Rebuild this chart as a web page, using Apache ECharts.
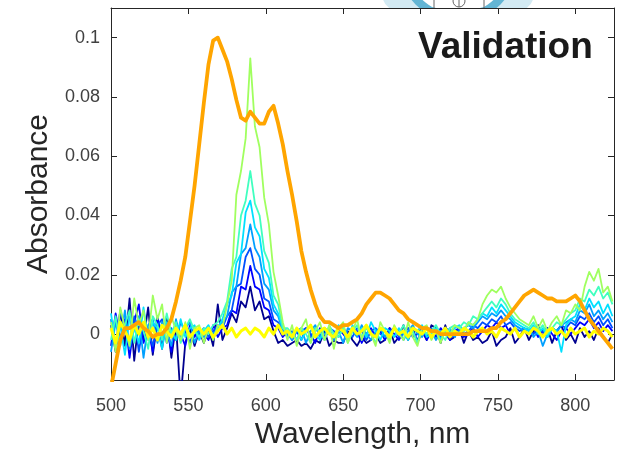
<!DOCTYPE html>
<html><head><meta charset="utf-8">
<script src="https://cdn.jsdelivr.net/npm/echarts@6/dist/echarts.min.js"></script>
<style>html,body{margin:0;padding:0;background:#fff}#c{width:628px;height:455px}</style>
</head><body><div id="c"></div>
<script>
// Wavelength grid (nm)
const wavelength = [
500,503,506,509,512,515,518,521,524,527,
530,533,536,539,542,545,548,551,554,557,
560,563,566,569,572,575,578,581,584,587,
590,593,596,599,602,605,608,611,614,617,
620,623,626,629,632,635,638,641,644,647,
650,653,656,659,662,665,668,671,674,677,
680,683,686,689,692,695,698,701,704,707,
710,713,716,719,722,725,728,731,734,737,
740,743,746,749,752,755,758,761,764,767,
770,773,776,779,782,785,788,791,794,797,
800,803,806,809,812,815,818,821,824];

const navy = [
0.003,-0.006,0.008,-0.004,0.012,-0.009,0.005,-0.002,0.009,-0.007,
0.004,-0.005,0.006,-0.008,0.003,-0.022,-0.003,0.002,-0.004,0.001,
-0.003,0.002,-0.004,0.010,-0.002,0.002,0.007,0.004,0.011,0.009,
0.016,0.008,0.011,0.005,0.006,0.001,-0.003,-0.002,-0.004,-0.003,
-0.002,-0.004,-0.003,-0.005,-0.002,-0.003,0.001,-0.004,-0.002,-0.003,
-0.003,0.001,-0.002,-0.004,-0.001,-0.003,-0.002,0.000,-0.003,-0.002,
0.002,-0.003,-0.001,0.003,-0.002,0.002,-0.003,0.001,-0.002,0.003,
0.002,-0.003,0.003,-0.002,-0.001,0.002,-0.003,0.001,-0.002,-0.001,
-0.003,-0.002,0.001,-0.004,-0.002,-0.001,0.002,-0.003,-0.001,0.002,
-0.002,0.001,0.003,-0.001,0.002,-0.003,0.001,0.003,-0.002,0.000,
-0.003,0.002,-0.001,0.001,-0.002,0.002,-0.001,-0.003,0.000];

const blue = [
-0.004,0.007,-0.002,0.005,-0.008,0.004,0.010,-0.003,0.002,-0.006,
0.006,-0.002,0.003,-0.006,0.004,0.000,-0.004,0.003,-0.001,0.002,
0.000,-0.002,0.003,-0.001,0.002,0.003,0.008,0.007,0.016,0.015,
0.023,0.016,0.015,0.009,0.008,0.003,0.002,-0.001,0.001,-0.002,
0.001,-0.002,0.002,0.000,-0.003,0.002,-0.001,0.001,-0.002,0.002,
0.000,-0.002,0.002,0.001,-0.003,0.000,0.002,-0.001,0.001,-0.002,
0.002,0.000,-0.002,0.001,0.002,-0.001,0.000,0.002,-0.002,0.001,
-0.001,0.002,0.000,-0.002,0.001,0.002,-0.001,0.000,0.002,-0.001,
0.001,0.003,0.002,0.004,0.002,0.003,0.000,0.002,-0.001,0.001,
0.000,0.002,-0.001,0.001,0.002,0.000,-0.002,0.001,0.002,0.000,
0.002,0.004,0.003,0.005,0.002,0.004,0.001,0.003,0.001];

const royal = [
0.005,-0.005,0.008,0.002,-0.003,0.006,-0.006,0.004,0.001,-0.004,
0.003,0.005,-0.003,0.002,-0.002,0.004,0.001,-0.003,0.002,0.000,
0.002,-0.001,0.001,0.003,0.002,0.006,0.008,0.016,0.017,0.026,
0.029,0.022,0.020,0.012,0.011,0.005,0.004,0.001,-0.001,0.001,
-0.002,0.001,0.002,-0.001,0.002,0.000,-0.002,0.002,0.001,-0.001,
0.002,0.000,-0.001,0.002,0.001,-0.002,0.001,0.002,0.000,-0.001,
0.001,0.002,-0.001,0.000,0.002,0.001,-0.002,0.001,0.000,0.002,
0.000,-0.001,0.002,0.001,-0.001,0.002,0.000,0.001,0.003,0.002,
0.004,0.003,0.005,0.004,0.006,0.003,0.004,0.002,0.001,0.002,
0.001,0.000,0.002,0.001,-0.001,0.002,0.001,0.003,0.002,0.004,
0.003,0.006,0.005,0.007,0.004,0.006,0.003,0.005,0.002];

const azure = [
-0.006,0.004,-0.003,0.008,-0.005,0.002,0.006,-0.008,0.003,0.005,
-0.003,0.004,0.001,-0.004,0.005,-0.002,0.002,0.004,-0.003,0.001,
-0.001,0.002,0.000,0.002,0.004,0.006,0.014,0.016,0.027,0.029,
0.037,0.029,0.026,0.017,0.015,0.008,0.006,0.001,0.000,-0.002,
0.001,0.002,-0.003,0.001,0.003,-0.001,0.000,0.002,-0.002,0.001,
-0.003,0.002,0.001,-0.001,0.003,0.000,-0.002,0.001,0.002,-0.001,
0.000,0.002,0.001,-0.002,0.001,0.003,0.000,-0.001,0.002,0.001,
-0.002,0.001,0.000,0.002,-0.001,0.001,0.002,0.003,0.002,0.004,
0.006,0.005,0.007,0.006,0.008,0.006,0.005,0.003,0.002,0.001,
0.002,-0.001,0.001,-0.004,0.000,0.002,0.001,0.003,0.004,0.005,
0.004,0.008,0.007,0.010,0.006,0.008,0.005,0.007,0.004];

const cyan = [
0.007,-0.004,0.003,-0.007,0.006,0.002,-0.003,0.009,-0.002,0.004,
0.002,-0.005,0.004,0.001,-0.002,0.005,-0.001,0.002,0.003,-0.002,
0.001,0.003,-0.001,0.002,0.005,0.010,0.013,0.024,0.027,0.041,
0.045,0.036,0.033,0.022,0.019,0.010,0.007,0.002,0.001,-0.001,
0.002,-0.002,0.001,0.003,0.000,-0.002,0.002,0.001,-0.001,0.003,
0.001,-0.002,0.003,0.000,0.002,-0.001,0.004,0.001,-0.002,0.002,
0.001,-0.001,0.002,0.000,-0.002,0.002,0.001,0.003,-0.001,0.000,
0.002,-0.002,0.001,0.000,0.002,0.003,0.001,0.004,0.003,0.005,
0.007,0.006,0.009,0.007,0.010,0.008,0.006,0.004,0.003,0.002,
0.001,0.003,0.000,0.002,-0.001,0.002,0.001,-0.006,0.003,0.005,
0.006,0.010,0.008,0.012,0.009,0.011,0.007,0.010,0.006];

const aquamarine = [
-0.002,0.006,-0.004,0.003,0.008,-0.003,0.005,0.001,-0.005,0.006,
0.003,-0.002,0.007,0.000,0.004,-0.003,0.002,0.005,0.001,-0.001,
0.002,0.000,0.003,0.004,0.007,0.011,0.022,0.026,0.040,0.045,
0.055,0.044,0.040,0.028,0.024,0.013,0.010,0.002,0.002,0.000,
-0.002,0.002,0.000,-0.003,0.002,0.001,-0.002,0.003,0.000,-0.001,
0.002,-0.003,0.001,0.003,-0.001,0.002,0.000,-0.003,0.002,0.001,
-0.002,0.002,0.000,0.003,-0.001,0.001,-0.003,0.002,0.000,0.001,
0.003,0.000,-0.002,0.002,0.003,0.002,0.004,0.003,0.006,0.005,
0.007,0.009,0.011,0.009,0.012,0.010,0.007,0.005,0.004,0.003,
0.002,0.004,0.001,0.003,0.000,0.002,0.004,0.003,0.005,0.007,
0.008,0.012,0.011,0.015,0.013,0.016,0.012,0.014,0.010];

const green = [
0.004,-0.006,0.009,0.002,-0.004,0.012,0.003,0.008,-0.002,0.013,
0.005,0.010,-0.003,0.006,0.001,-0.002,0.004,-0.005,0.002,0.003,
-0.003,0.002,-0.002,0.003,0.002,0.010,0.018,0.047,0.055,0.066,
0.093,0.070,0.063,0.046,0.037,0.021,0.013,0.004,-0.002,0.003,
-0.004,0.002,0.005,-0.003,0.001,0.004,-0.002,0.003,-0.005,0.002,
0.004,-0.003,0.001,0.005,-0.002,0.003,0.000,-0.004,0.004,0.001,
-0.003,0.003,0.000,-0.002,0.004,-0.001,-0.004,0.002,0.003,-0.002,
0.001,-0.003,0.002,0.000,0.003,0.002,0.001,0.004,0.003,0.005,
0.010,0.013,0.015,0.014,0.016,0.012,0.009,0.007,0.005,0.004,
0.003,0.006,0.002,0.005,0.001,0.004,0.006,0.003,0.008,0.007,
0.010,0.008,0.016,0.021,0.018,0.022,0.014,0.016,0.011];

const yellow = [
0.002,-0.003,0.004,0.001,-0.002,0.003,0.000,0.004,-0.001,0.002,
-0.002,0.003,0.001,-0.001,0.002,0.000,0.003,-0.001,0.001,0.002,
0.000,0.002,-0.001,0.001,0.003,0.000,0.002,-0.001,0.001,0.002,
0.000,0.002,0.001,-0.001,0.002,0.000,0.003,0.000,0.001,-0.001,
0.002,0.000,0.001,0.003,-0.001,0.001,0.002,0.000,-0.001,0.002,
0.001,-0.001,0.002,0.000,0.001,0.003,0.000,-0.001,0.002,0.001,
-0.001,0.002,0.000,0.001,-0.001,0.002,0.001,0.000,0.002,-0.001,
0.001,0.000,0.002,-0.001,0.001,0.000,0.002,0.001,-0.001,0.001,
0.002,0.000,0.001,-0.001,0.002,0.001,0.000,0.002,-0.001,0.001,
0.000,0.002,0.001,-0.001,0.001,0.002,0.000,0.001,-0.001,0.002,
0.000,0.001,0.002,-0.001,0.001,0.000,0.002,0.001,-0.001];

const orange = [
-0.018,-0.010,-0.002,0.002,0.002,0.003,0.004,0.002,0.001,-0.001,
0.000,0.000,0.002,0.005,0.011,0.018,0.026,0.038,0.050,0.064,
0.078,0.091,0.099,0.100,0.096,0.092,0.086,0.079,0.073,0.072,
0.075,0.073,0.071,0.071,0.075,0.077,0.071,0.064,0.055,0.047,
0.038,0.028,0.021,0.015,0.010,0.006,0.004,0.004,0.003,0.002,
0.003,0.003,0.004,0.005,0.007,0.010,0.012,0.014,0.014,0.013,
0.012,0.010,0.008,0.007,0.005,0.004,0.003,0.002,0.002,0.001,
0.001,0.000,0.000,0.000,0.000,0.000,0.000,0.000,0.001,0.001,
0.001,0.001,0.002,0.002,0.004,0.005,0.007,0.009,0.011,0.013,
0.014,0.015,0.014,0.013,0.012,0.012,0.011,0.011,0.011,0.012,
0.013,0.011,0.008,0.005,0.003,0.001,-0.001,-0.003,-0.005];

const xTicks = [500, 550, 600, 650, 700, 750, 800];
const yTicks = [0, 0.02, 0.04, 0.06, 0.08, 0.1];
const titleText = 'Validation';
const xName = 'Wavelength, nm';
const yName = 'Absorbance';

const FONT = 'Liberation Sans, Arial, Helvetica, sans-serif';
const AX = '#262626';

const chart = echarts.init(document.getElementById('c'), null, {renderer: 'canvas'});

function mk(name, vals, color, width) {
  return {
    type: 'line', name: name,
    data: wavelength.map((w, i) => [w, vals[i]]),
    showSymbol: false, symbol: 'none', clip: true, silent: true,
    lineStyle: {color: color, width: width, join: 'round'},
    itemStyle: {color: color},
    animation: false
  };
}

// decorative fragment at top (clipped above plot box)
function circlePts(cx, cy, r, clampY) {
  const pts = [];
  for (let i = 0; i <= 72; i++) {
    const a = i / 72 * Math.PI * 2;
    pts.push([cx + r * Math.cos(a), Math.min(cy + r * Math.sin(a), clampY)]);
  }
  return pts;
}
const deco = [
  {type: 'polygon', shape: {points: circlePts(458, -38, 84, 8)}, style: {fill: '#d3eaf3'}, z: -5, silent: true},
  {type: 'polygon', shape: {points: circlePts(458, -38, 60, 8)}, style: {fill: '#63b5d4'}, z: -4, silent: true},
  {type: 'polygon', shape: {points: circlePts(458, -38, 52, 8)}, style: {fill: '#ffffff'}, z: -3, silent: true},
  {type: 'line', shape: {x1: 434, y1: 0, x2: 434, y2: 8}, style: {stroke: '#666', lineWidth: 1}, z: -2, silent: true},
  {type: 'line', shape: {x1: 484, y1: 0, x2: 484, y2: 8}, style: {stroke: '#666', lineWidth: 1}, z: -2, silent: true},
  {type: 'circle', shape: {cx: 459, cy: 1, r: 6}, style: {fill: 'none', stroke: '#666', lineWidth: 1}, z: -2, silent: true},
  {type: 'line', shape: {x1: 459, y1: -5, x2: 459, y2: 7}, style: {stroke: '#666', lineWidth: 1}, z: -2, silent: true}
];

const option = {
  animation: false,
  backgroundColor: '#ffffff',
  textStyle: {fontFamily: FONT},
  title: {
    text: titleText, left: 413, top: 24,
    textStyle: {fontSize: 37, fontWeight: 'bold', color: '#1a1a1a', fontFamily: FONT}
  },
  grid: {left: 111, right: 14, top: 8, bottom: 70, containLabel: false},
  graphic: deco,
  xAxis: [{
    type: 'value', min: 500, max: 825, position: 'bottom',
    name: xName, nameLocation: 'middle', nameGap: 40,
    nameTextStyle: {fontSize: 30, color: AX, fontFamily: FONT},
    axisLine: {show: true, onZero: false, lineStyle: {color: AX, width: 1}},
    axisTick: {show: true, inside: true, length: 6, customValues: xTicks, lineStyle: {color: AX}},
    axisLabel: {customValues: xTicks, fontSize: 18, color: '#404040', margin: 17, fontFamily: FONT},
    splitLine: {show: false}
  }, {
    type: 'value', min: 500, max: 825, position: 'top',
    axisLine: {show: true, onZero: false, lineStyle: {color: AX, width: 1}},
    axisTick: {show: true, inside: true, length: 6, customValues: xTicks, lineStyle: {color: AX}},
    axisLabel: {show: false},
    splitLine: {show: false}
  }],
  yAxis: [{
    type: 'value', min: -0.0155, max: 0.11, position: 'left',
    name: yName, nameLocation: 'middle', nameGap: 55, nameRotate: 90,
    nameTextStyle: {fontSize: 30, color: AX, fontFamily: FONT},
    axisLine: {show: true, onZero: false, lineStyle: {color: AX, width: 1}},
    axisTick: {show: true, inside: true, length: 6, customValues: yTicks, lineStyle: {color: AX}},
    axisLabel: {customValues: yTicks, fontSize: 18, color: '#404040', margin: 11, fontFamily: FONT,
      formatter: v => String(+(+v).toFixed(3))},
    splitLine: {show: false}
  }, {
    type: 'value', min: -0.0155, max: 0.11, position: 'right',
    axisLine: {show: true, onZero: false, lineStyle: {color: AX, width: 1}},
    axisTick: {show: true, inside: true, length: 6, customValues: yTicks, lineStyle: {color: AX}},
    axisLabel: {show: false},
    splitLine: {show: false}
  }],
  series: [
    mk('s1', navy, '#00008f', 1.8),
    mk('s2', blue, '#0000ff', 1.8),
    mk('s3', royal, '#0050ff', 1.8),
    mk('s4', azure, '#00a0ff', 1.8),
    mk('s5', cyan, '#00e0ff', 1.8),
    mk('s6', aquamarine, '#40ffbf', 1.8),
    mk('s7', green, '#a0ff5f', 1.8),
    mk('s8', yellow, '#ffff00', 3),
    mk('s9', orange, '#ffa500', 3.8)
  ]
};
chart.setOption(option);
</script>
</body></html>
